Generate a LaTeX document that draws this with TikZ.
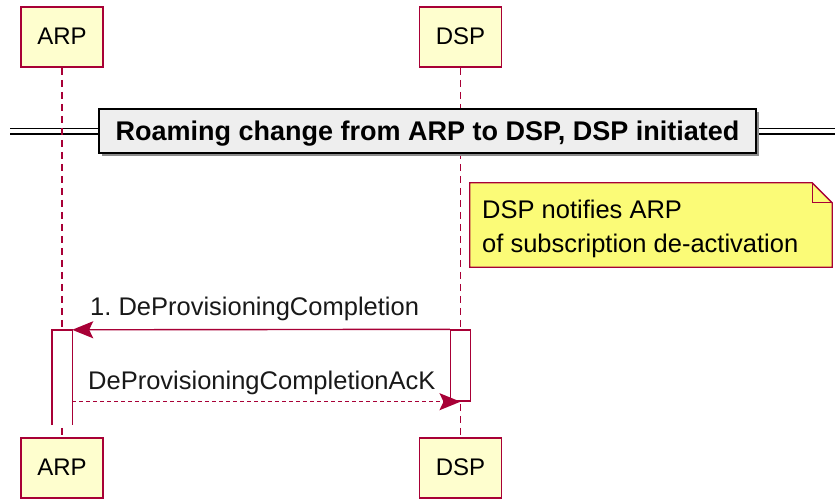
\documentclass[tikz,border=0pt]{standalone}
\usepackage{fontspec}
\setmainfont{Liberation Sans}
\usetikzlibrary{arrows.meta,shadows}
\definecolor{pline}{HTML}{A80036}
\definecolor{pfill}{HTML}{FEFECE}
\definecolor{nfill}{HTML}{FBFB77}
\definecolor{dfill}{HTML}{EEEEEE}
\frenchspacing
\begin{document}
\begin{tikzpicture}[x=1pt,y=-1pt,
  participant/.style={draw=pline, fill=pfill, line width=1.6pt, minimum width=82pt, minimum height=60pt, inner sep=0pt, text height=14pt, text depth=0pt, font=\fontsize{24}{28}\selectfont},
  lifeline/.style={draw=pline, line width=1.2pt, dash pattern=on 7pt off 5pt},
  dline/.style={draw=black, double=white, double distance=4.4pt, line width=1.3pt},
  divbox/.style={draw=black, fill=dfill, line width=2.5pt, minimum width=657pt, minimum height=44pt, inner sep=0pt, text depth=0pt, font=\fontsize{27}{30}\selectfont\bfseries, drop shadow={shadow xshift=3pt, shadow yshift=-3pt, fill=black!45, opacity=1}},
  notebox/.style={minimum width=362pt, minimum height=84pt, inner sep=0pt},
  noteline/.style={draw=pline, fill=nfill, line width=1.3pt, line join=miter},
  notetext/.style={inner sep=0pt, align=left, font=\fontsize{25.5}{34}\selectfont},
  actbox/.style={fill=white, minimum width=20pt, inner sep=0pt},
  actline/.style={draw=pline, line width=1.4pt},
  msg/.style={draw=pline, line width=1.4pt, -{Stealth[length=21pt, width=17pt, inset=4pt]}},
  msgtext/.style={inner sep=0pt, anchor=base west, text=black!90, font=\fontsize{25.5}{30}\selectfont}
]
\useasboundingbox (0,0) rectangle (835,499);

% participants
\node[participant] (arpT) at (62,37) {ARP};
\node[participant] (dspT) at (460.5,37) {DSP};
\node[participant] (arpB) at (62,468) {ARP};
\node[participant] (dspB) at (460.5,468) {DSP};

% divider double line
\coordinate (dL) at (10,131);
\coordinate (dR) at (835,131);
\draw[dline] (dL) -- (dR);

% lifelines
\draw[lifeline] (arpT.south) -- (arpB.north);
\draw[lifeline] (dspT.south) -- (dspB.north);

% divider
\node[divbox] (div) at (427.5,131) {Roaming change from ARP to DSP, DSP initiated};

% note
\node[notebox] (note) at (651,225) {};
\coordinate (fold1) at ([xshift=-20pt]note.north east);
\coordinate (fold2) at ([yshift=-20pt]note.north east);
\draw[noteline] (note.south west) -- (note.north west) -- (fold1) -- (fold2) -- (note.south east) -- cycle;
\draw[noteline, fill=none] (fold1) -- (fold1 |- fold2) -- (fold2);
\node[notetext, anchor=west] (ntext) at (482,228.5) {DSP notifies ARP\\of subscription de-activation};

% activations
\node[actbox, minimum height=95pt] (actA) at (62,377.5) {};
\draw[actline] (actA.south west) -- (actA.north west) -- (actA.north east) -- (actA.south east);
\node[actbox, minimum height=71pt, draw=pline, line width=1.4pt] (actD) at (460.5,365.5) {};

% messages
\draw[msg] (actD.north west) -- (actA.north east);
\node[msgtext] (m1) at (90,315) {1. DeProvisioningCompletion};
\draw[msg, dash pattern=on 4pt off 3pt] (actA.east |- actD.south) -- (actD.south);
\node[msgtext] (m2) at (88,389) {DeProvisioningCompletionAcK};
\end{tikzpicture}
\end{document}
